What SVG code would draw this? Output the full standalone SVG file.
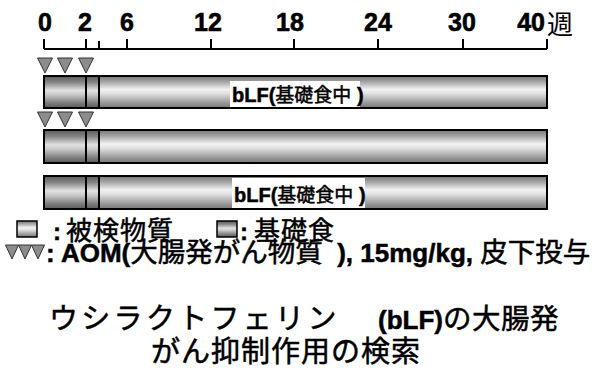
<svg xmlns="http://www.w3.org/2000/svg" width="613" height="374" viewBox="0 0 613 374">
<defs>
<linearGradient id="gLight" x1="0" y1="0" x2="0" y2="1">
<stop offset="0" stop-color="#767676"/>
<stop offset="0.18" stop-color="#a4a4a4"/>
<stop offset="0.42" stop-color="#f2f2f2"/>
<stop offset="0.55" stop-color="#e0e0e0"/>
<stop offset="0.85" stop-color="#969696"/>
<stop offset="1" stop-color="#767676"/>
</linearGradient>
<linearGradient id="gDark" x1="0" y1="0" x2="0" y2="1">
<stop offset="0" stop-color="#5a5a5a"/>
<stop offset="0.2" stop-color="#868686"/>
<stop offset="0.45" stop-color="#e2e2e2"/>
<stop offset="0.6" stop-color="#c4c4c4"/>
<stop offset="0.85" stop-color="#7a7a7a"/>
<stop offset="1" stop-color="#5a5a5a"/>
</linearGradient>
<polygon id="tri" points="-7.5,0 7.5,0 0,15" fill="#8c8c8c" stroke="#333" stroke-width="1"/>
<polygon id="triS" points="-6.5,0 6.5,0 0,14" fill="#8c8c8c" stroke="#333" stroke-width="1"/>
</defs>
<style>
.num{font-family:"Liberation Sans",Arial,sans-serif;font-weight:bold;font-size:25px;fill:#000;stroke:#000;stroke-width:0.6px}
.jp{font-family:"Noto Sans CJK JP","Liberation Sans",sans-serif;fill:#000}
.lb{font-family:"Liberation Sans",Arial,sans-serif;font-weight:bold;fill:#000;stroke:#000;stroke-width:0.5px}
.thick{stroke:#000;stroke-width:0.5px}
.bar{stroke:#000;stroke-width:2}
.ln{stroke:#000;stroke-width:2;fill:none}
</style>
<rect width="613" height="374" fill="#fff"/>
<g id="axis">
<path class="ln" d="M44,49H547M44,39V49M86,39V49M99,41V49M127,39V49M211,39V49M294,39V49M378,39V49M463,39V49M547,39V49"/>
<text class="num" x="45" y="31" text-anchor="middle">0</text>
<text class="num" x="85" y="31" text-anchor="middle">2</text>
<text class="num" x="127" y="31" text-anchor="middle">6</text>
<text class="num" x="208" y="31" text-anchor="middle">12</text>
<text class="num" x="290" y="31" text-anchor="middle">18</text>
<text class="num" x="378" y="31" text-anchor="middle">24</text>
<text class="num" x="462" y="31" text-anchor="middle">30</text>
<text class="num" x="545" y="31" text-anchor="end">40</text>
<text class="jp" x="547" y="34" font-size="26">週</text>
</g>
<g id="group1">
<use href="#tri" x="45" y="58"/><use href="#tri" x="65" y="58"/><use href="#tri" x="86" y="58"/>
<rect class="bar" x="44" y="76" width="55" height="32" fill="url(#gDark)"/>
<rect class="bar" x="99" y="76" width="448" height="32" fill="url(#gLight)"/>
<line class="ln" x1="86" y1="76" x2="86" y2="108"/>
<rect x="230" y="81" width="130" height="26" fill="#fff"/>
<text x="232" y="102" class="lb" font-size="20">bLF(<tspan class="jp thick" font-weight="normal" font-size="19">基礎食中</tspan> )</text>
</g>
<g id="group2">
<use href="#tri" x="45" y="112"/><use href="#tri" x="65" y="112"/><use href="#tri" x="86" y="112"/>
<rect class="bar" x="44" y="130" width="55" height="33" fill="url(#gDark)"/>
<rect class="bar" x="99" y="130" width="448" height="33" fill="url(#gLight)"/>
<line class="ln" x1="86" y1="130" x2="86" y2="163"/>
</g>
<g id="group3">
<rect class="bar" x="44" y="176" width="55" height="33" fill="url(#gDark)"/>
<rect class="bar" x="99" y="176" width="448" height="33" fill="url(#gLight)"/>
<line class="ln" x1="86" y1="176" x2="86" y2="209"/>
<rect x="232" y="178" width="133" height="30" fill="#fff"/>
<text x="234" y="202" class="lb" font-size="20">bLF(<tspan class="jp thick" font-weight="normal" font-size="19">基礎食中</tspan> )</text>
</g>
<g id="legend">
<rect x="17" y="221" width="20" height="16" fill="url(#gLight)" stroke="#000" stroke-width="1.5"/>
<text x="53" y="240" class="lb" font-size="24">:</text>
<text x="66" y="240" class="jp thick" font-size="26" letter-spacing="1">被検物質</text>
<rect x="217" y="221" width="20" height="16" fill="url(#gDark)" stroke="#000" stroke-width="1.5"/>
<text x="240" y="240" class="lb" font-size="24">:</text>
<text x="254" y="240" class="jp thick" font-size="26" letter-spacing="1">基礎食</text>
<use href="#triS" x="12" y="245"/><use href="#triS" x="25" y="245"/><use href="#triS" x="38" y="245"/>
<text x="46" y="262" class="lb" font-size="26">: AOM(<tspan class="jp thick" font-weight="normal" font-size="27.5">大腸発がん物質</tspan>&#160; ), 15mg/kg, <tspan class="jp thick" font-weight="normal" font-size="27.5">皮下投与</tspan></text>
</g>
<g id="title">
<text x="49" y="329" class="jp thick" font-size="29" letter-spacing="3.3">ウシラクトフェリン</text>
<text x="378" y="329" class="lb" font-size="26">(bLF)</text>
<text x="443" y="329" class="jp thick" font-size="28.5" letter-spacing="0.5">の大腸発</text>
<text x="151" y="362" class="jp thick" font-size="29" letter-spacing="1">がん抑制作用の検索</text>
</g>
<g id="connectors"/>
</svg>
